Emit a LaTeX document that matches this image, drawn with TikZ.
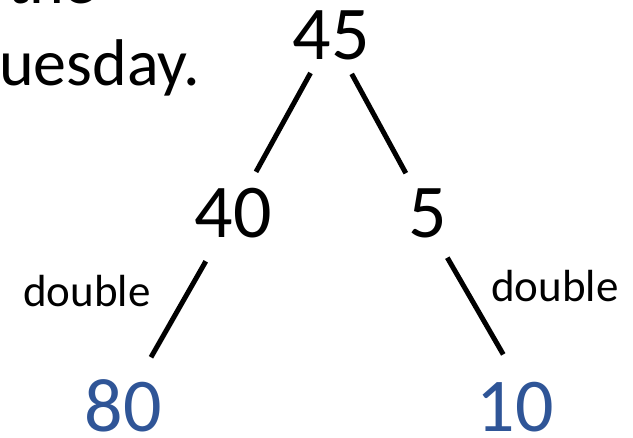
\documentclass[tikz,border=0pt]{standalone}
\usepackage{fontspec}
\setmainfont{Carlito}
\definecolor{numblue}{RGB}{47,85,151}
\tikzset{
  num/.style={font=\fontsize{76}{80}\selectfont, inner sep=0pt, anchor=base},
  bluenum/.style={num, text=numblue},
  lbl/.style={font=\fontsize{45}{50}\selectfont, inner sep=0pt, anchor=base},
  prose/.style={font=\fontsize{66}{80}\selectfont, inner sep=0pt, anchor=base east},
  branch/.style={line width=5pt}
}
\begin{document}
\begin{tikzpicture}[x=1pt,y=-1pt]
\useasboundingbox (0,0) rectangle (633,438);
\node[prose] (p1) at (97,4) {the};
\node[prose] (p2) at (200,86) {uesday.};
\node[num] (n45) at (331,60) {45};
\node[num] (n40) at (233,238) {40};
\node[num] (n5) at (428,238) {5};
\node[bluenum] (n80) at (123,432) {80};
\node[bluenum] (n10) at (515,432) {10};
\node[lbl] (d1) at (87,307) {double};
\node[lbl] (d2) at (555,302) {double};
\draw[branch, shorten <=14pt, shorten >=19pt] (n45) -- (n40);
\draw[branch, shorten <=15pt, shorten >=18pt] (n45) -- (n5);
\draw[branch, shorten <=26pt, shorten >=26pt] (n40) -- (n80);
\draw[branch, shorten <=50.6pt, shorten >=61.4pt] ([xshift=-6pt]n5.center) -- ([xshift=19pt]n10.center);
\end{tikzpicture}
\end{document}
